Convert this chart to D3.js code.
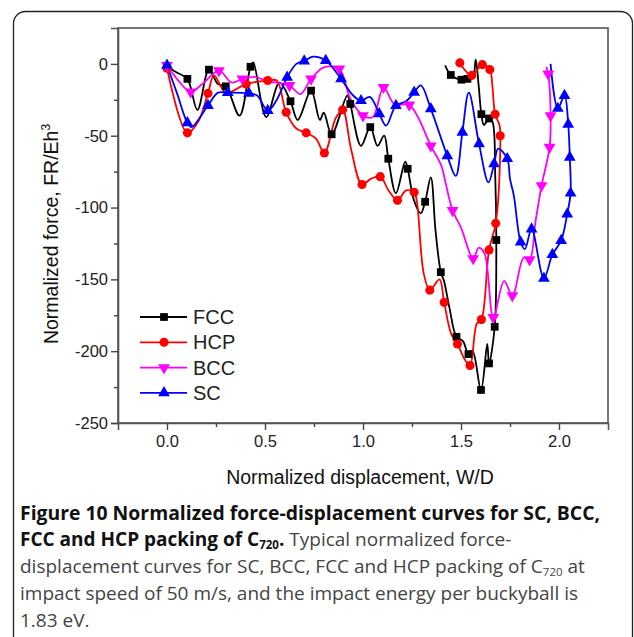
<!DOCTYPE html>
<html><head><meta charset="utf-8">
<script src="https://cdn.jsdelivr.net/npm/d3@7"></script>
<style>html,body{margin:0;padding:0;background:#fff}svg{display:block}</style>
</head><body><svg id="c" width="634" height="637"></svg>
<script>
// ---- data ----
const xTicks = [0, 0.5, 1.0, 1.5, 2.0];
const yTicks = [0, -50, -100, -150, -200, -250];
const seriesNames = ["FCC", "HCP", "BCC", "SC"];

const fccLine = [[0,-2],[0.05,-6],[0.104,-10.4],[0.155,-32],[0.214,-4],[0.26,-14],[0.30,-15.6],[0.37,-36],[0.426,-2],[0.44,1],[0.506,-37],[0.574,-13],[0.63,-26],[0.667,-39],[0.735,-18.6],[0.78,-39],[0.80,-34],[0.84,-49],[0.92,-22],[0.935,-27.9],[0.99,-57],[1.037,-44],[1.074,-57],[1.108,-50],[1.129,-66],[1.168,-90],[1.215,-68],[1.228,-73],[1.26,-95],[1.295,-104],[1.317,-96],[1.346,-79],[1.37,-116],[1.397,-145],[1.413,-151],[1.44,-169],[1.477,-190],[1.51,-193],[1.538,-202],[1.559,-200],[1.602,-227],[1.634,-195],[1.643,-208.5],[1.672,-183],[1.68,-122.6],[1.675,-80],[1.66,-40],[1.643,-38],[1.617,-42.5],[1.604,-35],[1.59,-15],[1.575,3],[1.56,-10],[1.533,-10.4],[1.502,-11],[1.448,-7.7],[1.419,-1]];
const fccMarks = [[0,-2],[0.104,-10.4],[0.214,-4],[0.30,-15.6],[0.426,-2],[0.63,-26],[0.735,-18.6],[0.84,-49],[0.935,-27.9],[1.037,-44],[1.129,-66],[1.228,-73],[1.317,-96],[1.397,-145],[1.477,-190],[1.538,-202],[1.602,-227],[1.643,-208.5],[1.672,-183],[1.68,-122.6],[1.643,-38],[1.604,-35],[1.533,-10.4],[1.502,-11],[1.448,-7.7]];

const hcpLine = [[0,-3],[0.104,-48],[0.16,-40],[0.209,-20.5],[0.24,-8],[0.30,-20],[0.404,-14],[0.514,-11.6],[0.56,-11.6],[0.608,-33.7],[0.66,-45],[0.71,-48],[0.76,-52],[0.803,-62],[0.86,-38],[0.896,-32],[0.94,-60],[0.995,-84],[1.04,-80],[1.088,-78.5],[1.13,-88],[1.176,-95],[1.22,-88],[1.261,-89.4],[1.275,-96],[1.31,-146],[1.341,-157.5],[1.39,-150],[1.414,-166],[1.45,-188],[1.482,-195],[1.52,-206],[1.546,-210],[1.58,-181],[1.604,-178],[1.643,-129.5],[1.677,-111],[1.70,-60],[1.697,-43],[1.674,-35],[1.66,-15],[1.647,-4],[1.609,-0.5],[1.555,-8],[1.494,0.7]];
const hcpMarks = [[0,-3],[0.104,-48],[0.209,-20.5],[0.404,-14],[0.514,-11.6],[0.608,-33.7],[0.71,-48],[0.803,-62],[0.896,-32],[0.995,-84],[1.088,-78.5],[1.176,-95],[1.261,-89.4],[1.341,-157.5],[1.414,-166],[1.482,-195],[1.546,-210],[1.604,-178],[1.643,-129.5],[1.677,-111],[1.70,-50],[1.674,-35],[1.647,-4],[1.609,-0.5],[1.555,-8],[1.494,0.7]];

const bccLine = [[0,-1],[0.06,-12],[0.121,-19.5],[0.18,-14],[0.265,-4.7],[0.33,-13],[0.385,-10.5],[0.45,-9],[0.51,-12],[0.625,-15],[0.68,-21],[0.735,-10.5],[0.80,-2.4],[0.879,-3.5],[0.935,-24],[1.0,-36],[1.05,-37],[1.105,-16.3],[1.16,-28],[1.236,-28.5],[1.28,-37],[1.346,-57],[1.40,-71],[1.42,-82],[1.457,-102],[1.50,-114],[1.562,-135.5],[1.59,-128],[1.62,-132],[1.665,-176.5],[1.72,-151],[1.762,-161.3],[1.82,-135],[1.85,-136.3],[1.88,-110],[1.911,-84.7],[1.952,-58],[1.957,-36],[1.945,-7],[1.935,-2]];
const bccMarks = [[0,-1],[0.121,-19.5],[0.265,-4.7],[0.385,-10.5],[0.625,-15],[0.735,-10.5],[0.879,-3.5],[1.0,-36],[1.105,-16.3],[1.236,-28.5],[1.346,-57],[1.457,-102],[1.562,-135.5],[1.665,-176.5],[1.762,-161.3],[1.85,-136.3],[1.911,-84.7],[1.952,-58],[1.957,-36],[1.945,-7]];

const scLine = [[0,-1],[0.05,-20],[0.104,-41],[0.125,-44],[0.209,-29],[0.26,-20],[0.31,-20],[0.418,-20.5],[0.46,-22],[0.514,-32.5],[0.56,-25],[0.613,-9.3],[0.66,0],[0.70,2],[0.745,5],[0.81,2.3],[0.888,-10.4],[0.95,-22],[0.99,-25.6],[1.035,-23],[1.083,-34.8],[1.118,-43],[1.168,-29],[1.22,-26],[1.261,-19.8],[1.295,-15],[1.346,-31.3],[1.43,-64],[1.473,-78],[1.507,-47.6],[1.54,-20],[1.592,-55.7],[1.64,-82.5],[1.669,-69.6],[1.69,-59],[1.736,-66],[1.75,-80],[1.77,-92],[1.804,-124],[1.826,-129],[1.86,-115],[1.923,-149.3],[1.966,-132.8],[2.011,-123],[2.042,-104.5],[2.059,-90],[2.055,-65],[2.047,-42],[2.028,-22],[1.994,-31],[1.957,0]];
const scMarks = [[0,-1],[0.104,-41],[0.209,-29],[0.31,-20],[0.418,-20.5],[0.514,-32.5],[0.613,-9.3],[0.70,2],[0.81,2.3],[0.888,-10.4],[0.99,-25.6],[1.083,-34.8],[1.168,-29],[1.261,-19.8],[1.346,-31.3],[1.43,-64],[1.507,-47.6],[1.592,-55.7],[1.669,-69.6],[1.736,-66],[1.804,-124],[1.86,-115],[1.923,-149.3],[1.966,-132.8],[2.011,-123],[2.042,-104.5],[2.059,-90],[2.055,-65],[2.047,-42],[2.028,-22],[1.994,-31]];

// ---- drawing ----
const svg = d3.select("#c");
const M = {l:118, r:608, t:28, b:423};
const x = d3.scaleLinear().domain([-0.25, 2.25]).range([M.l, M.r]);
const y = d3.scaleLinear().domain([-250, 25]).range([M.b, M.t]);
const axisFont = "'Liberation Sans', Arial, sans-serif";
const hyph = f => (d => f(d).replace("\u2212", "-"));

// outer rounded box
svg.append("rect").attr("x",13.5).attr("y",11.5).attr("width",619).attr("height",660)
  .attr("rx",12).attr("fill","none").attr("stroke","#222").attr("stroke-width",1.3);

// frame
svg.append("rect").attr("x",M.l).attr("y",M.t).attr("width",M.r-M.l).attr("height",M.b-M.t)
  .attr("fill","none").attr("stroke","#555").attr("stroke-width",1.6);

// axes
svg.append("g").attr("transform",`translate(0,${M.b})`)
  .call(d3.axisBottom(x).tickValues(xTicks).tickFormat(d3.format(".1f")).tickSize(7).tickPadding(5));
svg.append("g").attr("transform",`translate(0,${M.b})`)
  .call(d3.axisBottom(x).tickValues([0.25,0.75,1.25,1.75]).tickFormat("").tickSize(4))
  .call(g=>g.select(".domain").remove());
svg.append("g").attr("transform",`translate(${M.l},0)`)
  .call(d3.axisLeft(y).tickValues(yTicks).tickFormat(hyph(d3.format("d"))).tickSize(7).tickPadding(3));
svg.append("g").attr("transform",`translate(${M.l},0)`)
  .call(d3.axisLeft(y).tickValues([-225,-175,-125,-75,-25]).tickFormat("").tickSize(4))
  .call(g=>g.select(".domain").remove());
svg.selectAll(".tick line").attr("stroke","#444").attr("stroke-width",1.4);
svg.selectAll(".domain").attr("stroke","#555").attr("stroke-width",1.6);
svg.selectAll(".tick text").attr("font-family",axisFont).attr("font-size",16.5).attr("fill","#222");

// axis titles
svg.append("text").attr("x",360).attr("y",484).attr("text-anchor","middle")
  .attr("font-family",axisFont).attr("font-size",19.5).attr("fill","#111").text("Normalized displacement, W/D");
const yt = svg.append("text").attr("transform","translate(58,234) rotate(-90)").attr("text-anchor","middle")
  .attr("font-family",axisFont).attr("font-size",19.5).attr("fill","#111");
yt.append("tspan").text("Normalized force, FR/Eh");
yt.append("tspan").attr("font-size",12).attr("dy",-8).text("3");

// series
const colors = ["#000000","#ff0000","#ff00ff","#0000ff"];
const lines = [fccLine, hcpLine, bccLine, scLine];
const marks = [fccMarks, hcpMarks, bccMarks, scMarks];
const shapes = [d3.symbolSquare, d3.symbolCircle, d3.symbolTriangle, d3.symbolTriangle];
const rot = [0,0,180,0];
const sizes = [60, 65, 60, 60];
const lineGen = d3.line().x(d=>x(d[0])).y(d=>y(d[1])).curve(d3.curveCatmullRom.alpha(0.5));
const plot = svg.append("g");
lines.forEach((L,i)=>{
  plot.append("path").attr("d",lineGen(L)).attr("fill","none").attr("stroke",colors[i])
    .attr("stroke-width",1.8).attr("stroke-linejoin","round");
});
marks.forEach((P,i)=>{
  plot.selectAll(null).data(P).enter().append("path")
    .attr("d",d3.symbol().type(shapes[i]).size(sizes[i]))
    .attr("transform",d=>`translate(${x(d[0])},${y(d[1])}) rotate(${rot[i]})`)
    .attr("fill",colors[i]);
});

// legend
const lg = svg.append("g");
seriesNames.forEach((n,i)=>{
  const yy = 317 + i*25.3;
  lg.append("line").attr("x1",140).attr("x2",187).attr("y1",yy).attr("y2",yy).attr("stroke",colors[i]).attr("stroke-width",1.8);
  lg.append("path").attr("d",d3.symbol().type(shapes[i]).size(sizes[i]))
    .attr("transform",`translate(164,${yy}) rotate(${rot[i]})`).attr("fill",colors[i]);
  lg.append("text").attr("x",193).attr("y",yy+7).attr("font-family",axisFont).attr("font-size",20)
    .attr("fill","#222").text(n);
});

// caption
const capFont = "'Open Sans', sans-serif";
const cap = svg.append("g").attr("font-family",capFont).attr("font-size",19);
cap.append("text").attr("x",20).attr("y",520).attr("font-weight","bold").attr("fill","#111")
  .attr("textLength",580).attr("lengthAdjust","spacingAndGlyphs")
  .text("Figure 10 Normalized force-displacement curves for SC, BCC,");
const l2 = cap.append("text").attr("x",20).attr("y",546);
l2.append("tspan").attr("font-weight","bold").attr("fill","#111").text("FCC and HCP packing of C");
l2.append("tspan").attr("font-weight","bold").attr("fill","#111").attr("font-size",11.5).attr("dy",2.5).text("720");
l2.append("tspan").attr("font-weight","bold").attr("fill","#111").attr("dy",-2.5).text(".");
l2.append("tspan").attr("fill","#444").text(" Typical normalized force-");
const l3 = cap.append("text").attr("x",20).attr("y",573).attr("fill","#444");
l3.append("tspan").text("displacement curves for SC, BCC, FCC and HCP packing of C");
l3.append("tspan").attr("font-size",11.5).attr("dy",2.5).text("720");
l3.append("tspan").attr("dy",-2.5).text(" at");
cap.append("text").attr("x",20).attr("y",600).attr("fill","#444")
  .text("impact speed of 50 m/s, and the impact energy per buckyball is");
cap.append("text").attr("x",20).attr("y",627).attr("fill","#444").text("1.83 eV.");
</script></body></html>
